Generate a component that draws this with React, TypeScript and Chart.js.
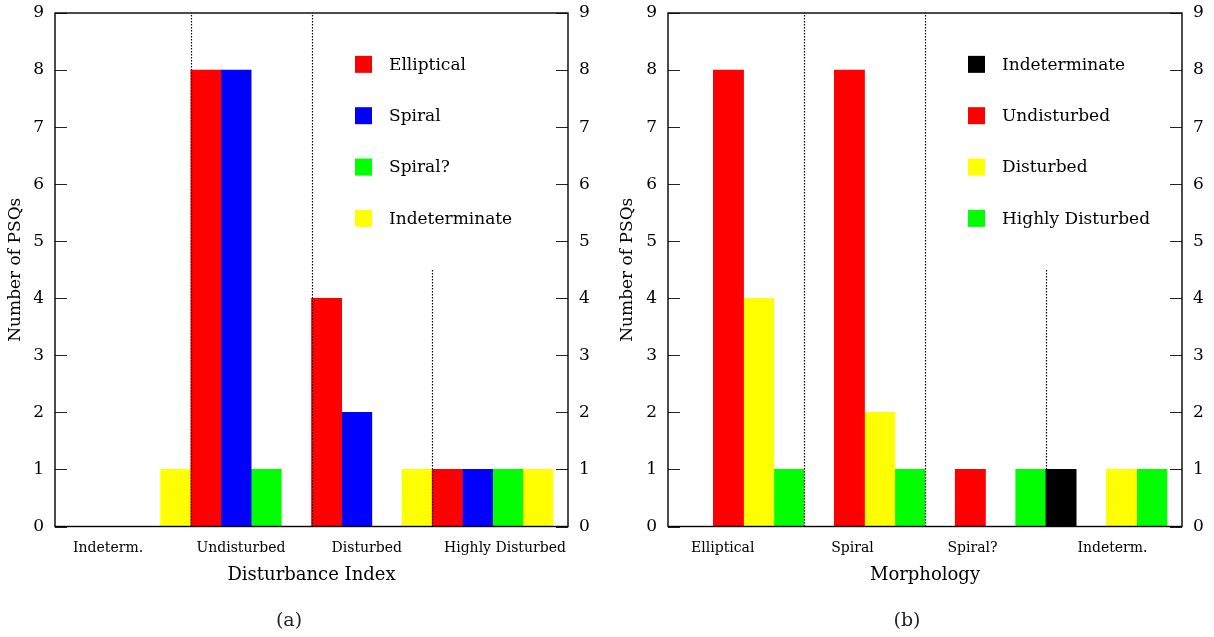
import React, { useEffect, useRef } from "react";
import { Chart, registerables } from "chart.js";

Chart.register(...registerables);

const FONT = "'DejaVu Serif', serif";

// ---------- Panel (a): by disturbance index ----------
const disturbanceCategories = ["Indeterm.", "Undisturbed", "Disturbed", "Highly Disturbed"];
const ellipticalCounts = [0, 8, 4, 1];
const spiralCounts = [0, 8, 2, 1];
const spiralQCounts = [0, 1, 0, 1];
const indetMorphCounts = [1, 0, 1, 1];

// ---------- Panel (b): by morphology ----------
const morphologyCategories = ["Elliptical", "Spiral", "Spiral?", "Indeterm."];
const indetDistCounts = [0, 0, 0, 1];
const undisturbedCounts = [8, 8, 1, 0];
const disturbedCounts = [4, 2, 0, 1];
const highlyDisturbedCounts = [1, 1, 1, 1];

const yMin = 0;
const yMax = 9;

type Series = { label: string; color: string; values: number[] };
type Panel = {
  categories: string[];
  series: Series[];
  xTitle: string;
  tickPos: number[];
  leftWidth: number;
  rightWidth: number;
  yTitlePad: number;
  sepTops: number[];
};

const SLOTS = 4;

const panelA: Panel = {
  categories: disturbanceCategories,
  series: [
    { label: "Elliptical", color: "#ff0000", values: ellipticalCounts },
    { label: "Spiral", color: "#0000ff", values: spiralCounts },
    { label: "Spiral?", color: "#00ff00", values: spiralQCounts },
    { label: "Indeterminate", color: "#ffff00", values: indetMorphCounts },
  ],
  xTitle: "Disturbance Index",
  tickPos: [0.76, 5.16, 9.33, 13.91],
  leftWidth: 55,
  rightWidth: 39,
  yTitlePad: 5.8,
  sepTops: [9, 9, 4.5],
};

const panelB: Panel = {
  categories: morphologyCategories,
  series: [
    { label: "Indeterminate", color: "#000000", values: indetDistCounts },
    { label: "Undisturbed", color: "#ff0000", values: undisturbedCounts },
    { label: "Disturbed", color: "#ffff00", values: disturbedCounts },
    { label: "Highly Disturbed", color: "#00ff00", values: highlyDisturbedCounts },
  ],
  xTitle: "Morphology",
  tickPos: [0.81, 5.1, 9.07, 13.7],
  leftWidth: 61,
  rightWidth: 32,
  yTitlePad: 10.8,
  sepTops: [9, 9, 4.5],
};

function decorPlugin(p: Panel) {
  return {
    id: "decor",
    afterDatasetsDraw(chart: any) {
      const { ctx, scales } = chart;
      const xs = scales.x;
      const ys = scales.y;
      ctx.save();
      ctx.strokeStyle = "#000";
      ctx.lineWidth = 1.2;
      ctx.setLineDash([1.5, 1.5]);
      for (let g = 1; g < p.categories.length; g++) {
        const px = Math.round(xs.getPixelForValue(g * SLOTS - 0.5)) + 0.5;
        ctx.beginPath();
        ctx.moveTo(px, ys.getPixelForValue(yMin));
        ctx.lineTo(px, ys.getPixelForValue(p.sepTops[g - 1]));
        ctx.stroke();
      }
      ctx.restore();
    },
    afterDraw(chart: any) {
      const { ctx, chartArea: a, scales } = chart;
      const ys = scales.y;
      ctx.save();
      // tick marks (inward, both sides)
      ctx.strokeStyle = "#222";
      ctx.lineWidth = 1;
      for (let v = yMin; v <= yMax; v++) {
        const py = Math.round(ys.getPixelForValue(v)) + 0.5;
        ctx.beginPath();
        ctx.moveTo(a.left, py);
        ctx.lineTo(a.left + 12, py);
        ctx.moveTo(a.right - 12, py);
        ctx.lineTo(a.right, py);
        ctx.stroke();
      }
      // frame
      ctx.strokeStyle = "#000";
      ctx.lineWidth = 1.4;
      ctx.strokeRect(a.left, a.top, a.right - a.left, a.bottom - a.top);
      // legend
      ctx.font = `17px ${FONT}`;
      ctx.textBaseline = "middle";
      ctx.textAlign = "left";
      p.series.forEach((s, i) => {
        const cy = ys.getPixelForValue(8.1 - 0.9 * i);
        const lx = a.left + 300;
        ctx.fillStyle = s.color;
        ctx.fillRect(lx, cy - 8.5, 17, 17);
        ctx.fillStyle = "#000";
        ctx.fillText(s.label, lx + 34, cy + 1);
      });
      ctx.restore();
    },
  };
}

function makeChart(canvas: HTMLCanvasElement, p: Panel) {
  const tickFont = { family: FONT, size: 17 };
  const fixV = (w: number) => (s: any) => {
    s.width = w;
    s.paddingTop = 13;
    s.paddingBottom = 0;
  };
  return new Chart(canvas, {
    type: "bar",
    data: {
      datasets: p.series.map((s, slot) => ({
        label: s.label,
        data: s.values.map((v, g) => ({ x: g * SLOTS + slot, y: v })),
        backgroundColor: s.color,
        borderWidth: 0,
        grouped: false,
        categoryPercentage: 1,
        barPercentage: 1,
      })),
    },
    options: {
      animation: false,
      responsive: true,
      maintainAspectRatio: false,
      events: [],
      layout: { padding: 0 },
      plugins: { legend: { display: false }, tooltip: { enabled: false } },
      scales: {
        x: {
          type: "linear",
          min: -1,
          max: p.series.length * p.categories.length,
          offset: false,
          grid: { display: false, drawTicks: false },
          border: { display: false },
          afterBuildTicks: (s: any) => {
            s.ticks = p.tickPos.map((v) => ({ value: v }));
          },
          afterFit: (s: any) => {
            s.height = 110.5;
            s.paddingLeft = 0;
            s.paddingRight = 0;
          },
          ticks: {
            autoSkip: false,
            maxRotation: 0,
            padding: 13,
            color: "#000",
            font: { family: FONT, size: 14 },
            callback: (_v: any, i: number) => p.categories[i],
          },
          title: {
            display: true,
            text: p.xTitle,
            color: "#000",
            font: { family: FONT, size: 18 },
            padding: { top: 0, bottom: 51 },
          },
        },
        y: {
          type: "linear",
          position: "left",
          min: yMin,
          max: yMax,
          grid: { display: false, drawTicks: false },
          border: { display: false },
          afterFit: fixV(p.leftWidth),
          ticks: { stepSize: 1, padding: 11, color: "#000", font: tickFont },
          title: {
            display: true,
            text: "Number of PSQs",
            color: "#000",
            font: { family: FONT, size: 17 },
            padding: { top: p.yTitlePad, bottom: 0 },
          },
        },
        y2: {
          type: "linear",
          position: "right",
          min: yMin,
          max: yMax,
          grid: { display: false, drawTicks: false },
          border: { display: false },
          afterFit: fixV(p.rightWidth),
          ticks: { stepSize: 1, padding: 11, color: "#000", font: tickFont },
        },
      },
    } as any,
    plugins: [decorPlugin(p)],
  });
}

export default function App() {
  const refA = useRef<HTMLCanvasElement | null>(null);
  const refB = useRef<HTMLCanvasElement | null>(null);

  useEffect(() => {
    const a = makeChart(refA.current!, panelA);
    const b = makeChart(refB.current!, panelB);
    return () => {
      a.destroy();
      b.destroy();
    };
  }, []);

  const cap: React.CSSProperties = {
    position: "absolute",
    top: 607,
    width: 100,
    textAlign: "center",
    fontFamily: FONT,
    fontSize: 19,
    lineHeight: "24px",
    color: "#222",
  };

  return (
    <div style={{ position: "absolute", left: 0, top: 0, width: 1214, height: 637, background: "#fff" }}>
      <div style={{ position: "absolute", left: 0, top: 0, width: 607, height: 637 }}>
        <canvas ref={refA} />
      </div>
      <div style={{ position: "absolute", left: 607, top: 0, width: 607, height: 637 }}>
        <canvas ref={refB} />
      </div>
      <div style={{ ...cap, left: 239 }}>(a)</div>
      <div style={{ ...cap, left: 857 }}>(b)</div>
    </div>
  );
}
